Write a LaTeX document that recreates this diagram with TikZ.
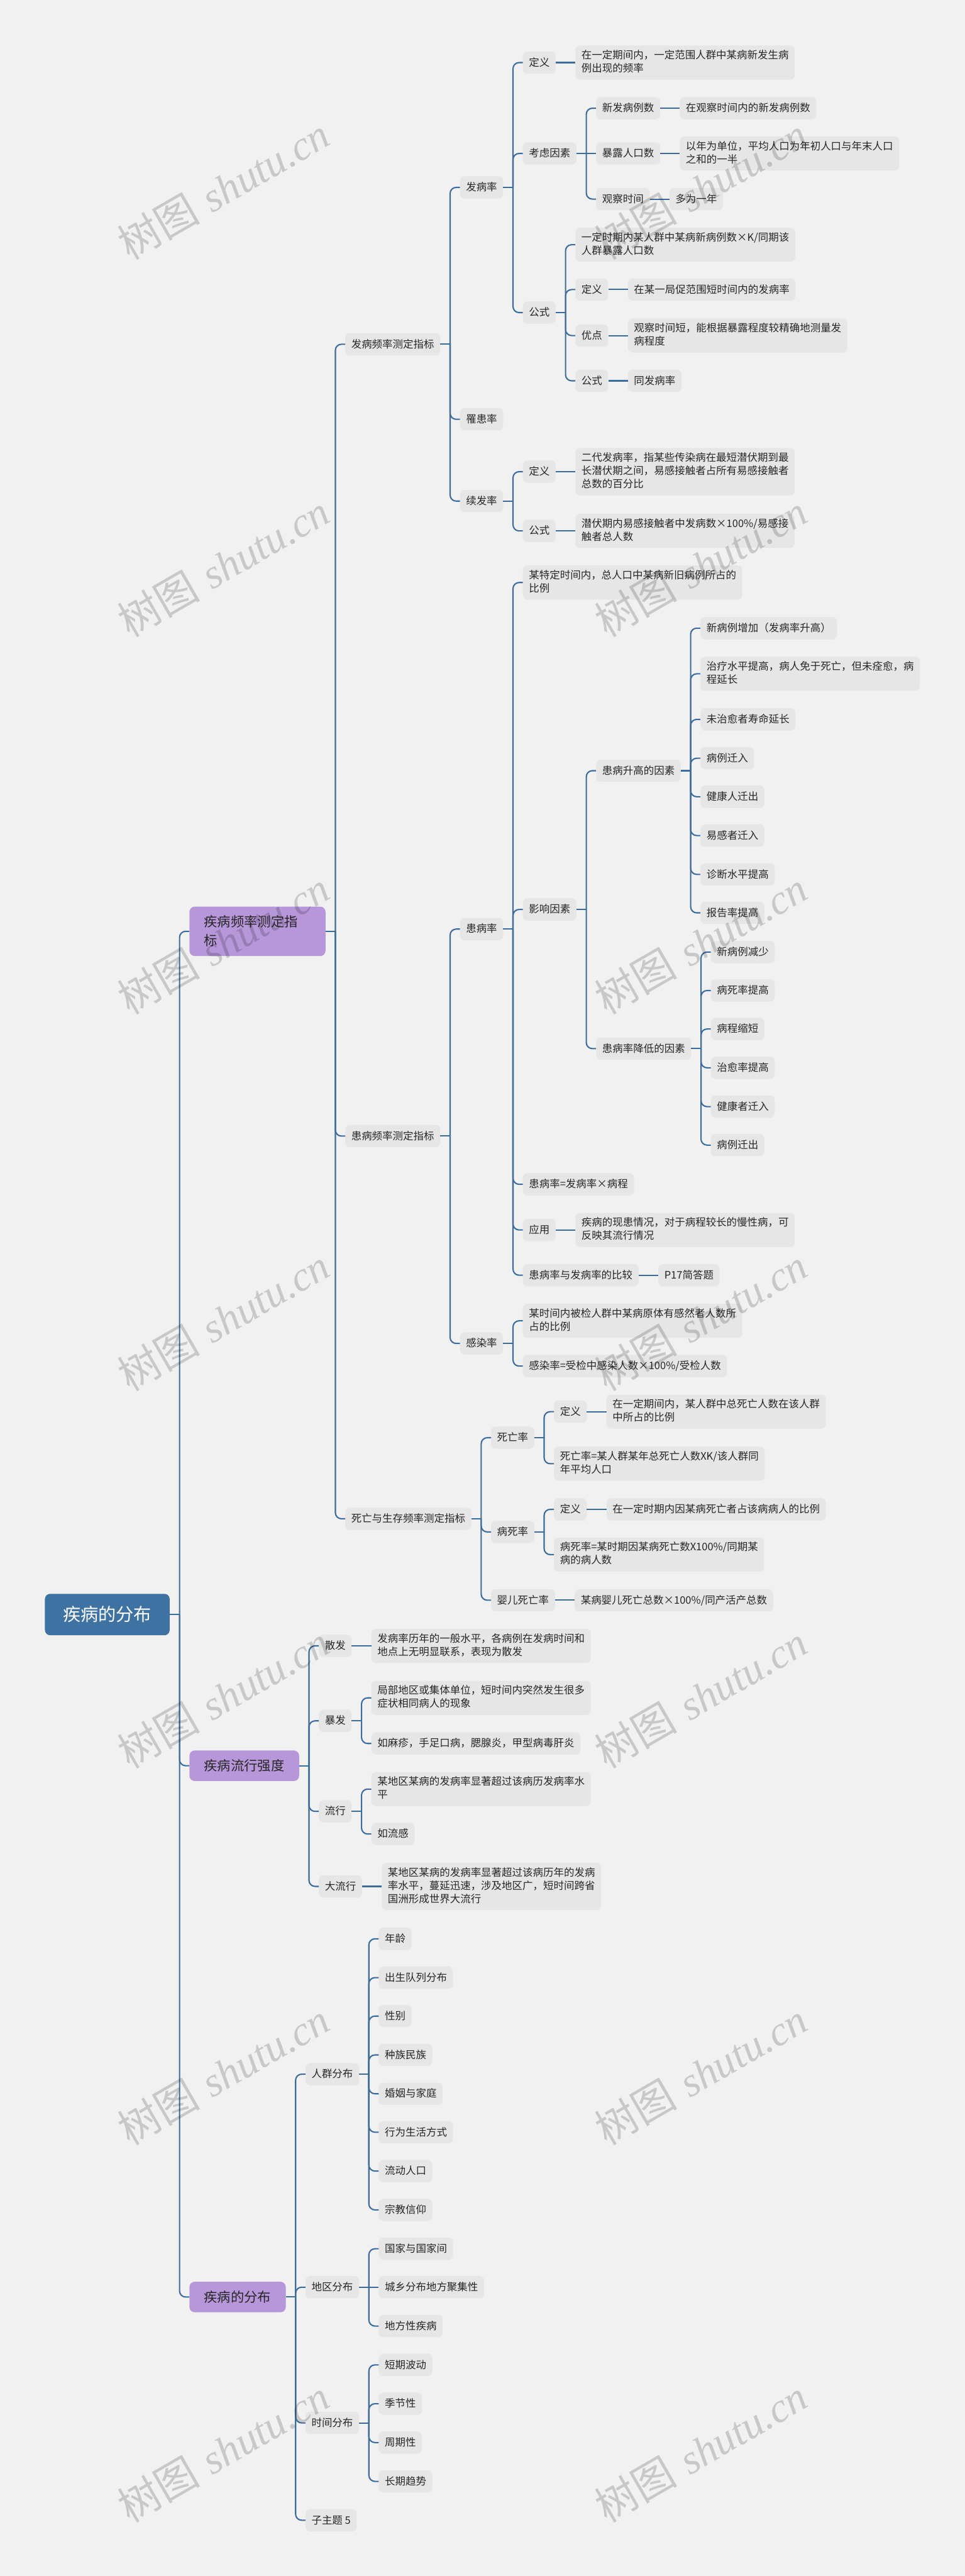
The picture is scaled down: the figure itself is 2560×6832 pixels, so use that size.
\documentclass[tikz,border=0pt]{standalone}
\usepackage{fontspec}
\newfontfamily\cjk{Noto Sans CJK SC}
\newfontfamily\wmserif{Liberation Serif}
\definecolor{bgc}{HTML}{F1F1F1}
\definecolor{boxc}{HTML}{E6E6E6}
\definecolor{linec}{HTML}{3C6C9C}
\definecolor{rootc}{HTML}{3E72A3}
\definecolor{purc}{HTML}{B797D9}
\definecolor{txtc}{HTML}{262626}
\newcommand\mystrut{\rule[-8pt]{0pt}{35pt}}
\newcommand\nl{\\\mystrut}
\newcommand\lstrut{\rule[-12pt]{0pt}{50pt}}
\newcommand\nll{\\\lstrut}
\newcommand\rstrut{\rule[-14pt]{0pt}{62pt}}
\newcommand\kid[5][]{%
  \node[bx,xshift=52pt,#1] (#2) at (#3.east |- 0,#4) {#5};%
  \expandafter\xdef\csname ny@#2\endcsname{#4}%
  \draw[conn] (#3.east) -- ++(26pt,0);%
  \ifdim #4pt=\csname ny@#3\endcsname pt
    \draw[conn] ([xshift=26pt]#3.east) -- (#2.west);%
  \else
    \draw[conn] ([xshift=26pt]#3.east) |- (#2.west);%
  \fi}
\begin{document}
\begin{tikzpicture}[x=1pt,y=-1pt,
  bx/.style={anchor=west, fill=boxc, rounded corners=12pt, inner xsep=16pt, inner ysep=12pt, align=left, text=txtc, font=\cjk\fontsize{27.5}{35}\selectfont, execute at begin node=\mystrut},
  lv1/.style={anchor=west, fill=purc, rounded corners=14pt, inner xsep=39pt, inner ysep=15.5pt, align=left, text=txtc, font=\cjk\fontsize{35.5}{50}\selectfont, execute at begin node=\lstrut},
  rt/.style={anchor=west, fill=rootc, rounded corners=14pt, inner xsep=48pt, inner ysep=24pt, text=white, font=\cjk\fontsize{47}{62}\selectfont, execute at begin node=\rstrut},
  conn/.style={draw=linec, line width=3.5pt, rounded corners=16pt},
  wm/.style={rotate=30, anchor=south west, text=black, text opacity=0.17, inner sep=0pt, font=\fontsize{110}{120}\selectfont}
]
\fill[bgc] (0,0) rectangle (2560,6832);
\node[rt] (R) at (119,4282) {疾病的分布};
\expandafter\xdef\csname ny@R\endcsname{4282}
% level 1
\kid[lv1,text width=283pt]{A1}{R}{2470}{疾病频率测定指\nll 标}
\kid[lv1]{A2}{R}{4683}{疾病流行强度}
\kid[lv1]{A3}{R}{6092}{疾病的分布}
% A1
\kid{B1}{A1}{913}{发病频率测定指标}
\kid{B2}{A1}{3013}{患病频率测定指标}
\kid{B3}{A1}{4028}{死亡与生存频率测定指标}
% B1
\kid{C1}{B1}{497}{发病率}
\kid{C2}{B1}{1112}{罹患率}
\kid{C3}{B1}{1329}{续发率}
\kid{D1}{C1}{166}{定义}
\kid{E1}{D1}{166}{在一定期间内，一定范围人群中某病新发生病\nl 例出现的频率}
\kid{D2}{C1}{407}{考虑因素}
\kid{E2}{D2}{287}{新发病例数}
\kid{F2}{E2}{287}{在观察时间内的新发病例数}
\kid{E3}{D2}{407}{暴露人口数}
\kid{F3}{E3}{407}{以年为单位，平均人口为年初人口与年末人口\nl 之和的一半}
\kid{E4}{D2}{528}{观察时间}
\kid{F4}{E4}{528}{多为一年}
\kid{D3}{C1}{829}{公式}
\kid{E5}{D3}{649}{一定时期内某人群中某病新病例数×K/同期该\nl 人群暴露人口数}
\kid{E6}{D3}{768}{定义}
\kid{F6}{E6}{768}{在某一局促范围短时间内的发病率}
\kid{E7}{D3}{890}{优点}
\kid{F7}{E7}{890}{观察时间短，能根据暴露程度较精确地测量发\nl 病程度}
\kid{E8}{D3}{1010}{公式}
\kid{F8}{E8}{1010}{同发病率}
\kid{D4}{C3}{1251}{定义}
\kid{E9}{D4}{1251}{二代发病率，指某些传染病在最短潜伏期到最\nl 长潜伏期之间，易感接触者占所有易感接触者\nl 总数的百分比}
\kid{D5}{C3}{1408}{公式}
\kid{E10}{D5}{1408}{潜伏期内易感接触者中发病数×100\%/易感接\nl 触者总人数}
% B2
\kid{C4}{B2}{2464}{患病率}
\kid{C5}{B2}{3563}{感染率}
\kid{D6}{C4}{1545}{某特定时间内，总人口中某病新旧病例所占的\nl 比例}
\kid{D7}{C4}{2412}{影响因素}
\kid{E11}{D7}{2044}{患病升高的因素}
\kid{G1}{E11}{1666}{新病例增加（发病率升高）}
\kid{G2}{E11}{1787}{治疗水平提高，病人免于死亡，但未痊愈，病\nl 程延长}
\kid{G3}{E11}{1908}{未治愈者寿命延长}
\kid{G4}{E11}{2011}{病例迁入}
\kid{G5}{E11}{2113}{健康人迁出}
\kid{G6}{E11}{2216}{易感者迁入}
\kid{G7}{E11}{2319}{诊断水平提高}
\kid{G8}{E11}{2421}{报告率提高}
\kid{E12}{D7}{2781}{患病率降低的因素}
\kid{H1}{E12}{2525}{新病例减少}
\kid{H2}{E12}{2627}{病死率提高}
\kid{H3}{E12}{2729}{病程缩短}
\kid{H4}{E12}{2832}{治愈率提高}
\kid{H5}{E12}{2935}{健康者迁入}
\kid{H6}{E12}{3037}{病例迁出}
\kid{D8}{C4}{3141}{患病率=发病率×病程}
\kid{D9}{C4}{3262}{应用}
\kid{E13}{D9}{3262}{疾病的现患情况，对于病程较长的慢性病，可\nl 反映其流行情况}
\kid{D10}{C4}{3382}{患病率与发病率的比较}
\kid{E14}{D10}{3382}{P17简答题}
\kid{D11}{C5}{3503}{某时间内被检人群中某病原体有感然者人数所\nl 占的比例}
\kid{D12}{C5}{3623}{感染率=受检中感染人数×100\%/受检人数}
% B3
\kid{C6}{B3}{3813}{死亡率}
\kid{D13}{C6}{3744}{定义}
\kid{E15}{D13}{3744}{在一定期间内，某人群中总死亡人数在该人群\nl 中所占的比例}
\kid{D14}{C6}{3882}{死亡率=某人群某年总死亡人数XK/该人群同\nl 年平均人口}
\kid{C7}{B3}{4063}{病死率}
\kid{D15}{C7}{4003}{定义}
\kid{E16}{D15}{4003}{在一定时期内因某病死亡者占该病病人的比例}
\kid{D16}{C7}{4123}{病死率=某时期因某病死亡数X100\%/同期某\nl 病的病人数}
\kid{C8}{B3}{4244}{婴儿死亡率}
\kid{D17}{C8}{4244}{某病婴儿死亡总数×100\%/同产活产总数}
% A2
\kid{B4}{A2}{4365}{散发}
\kid{C9}{B4}{4365}{发病率历年的一般水平，各病例在发病时间和\nl 地点上无明显联系，表现为散发}
\kid{B5}{A2}{4564}{暴发}
\kid{C10}{B5}{4503}{局部地区或集体单位，短时间内突然发生很多\nl 症状相同病人的现象}
\kid{C11}{B5}{4624}{如麻疹，手足口病，腮腺炎，甲型病毒肝炎}
\kid{B6}{A2}{4804}{流行}
\kid{C12}{B6}{4745}{某地区某病的发病率显著超过该病历发病率水\nl 平}
\kid{C13}{B6}{4864}{如流感}
\kid{B7}{A2}{5003}{大流行}
\kid{C14}{B7}{5003}{某地区某病的发病率显著超过该病历年的发病\nl 率水平，蔓延迅速，涉及地区广，短时间跨省\nl 国洲形成世界大流行}
% A3
\kid{B8}{A3}{5501}{人群分布}
\kid{I1}{B8}{5142}{年龄}
\kid{I2}{B8}{5245}{出生队列分布}
\kid{I3}{B8}{5347}{性别}
\kid{I4}{B8}{5450}{种族民族}
\kid{I5}{B8}{5553}{婚姻与家庭}
\kid{I6}{B8}{5655}{行为生活方式}
\kid{I7}{B8}{5758}{流动人口}
\kid{I8}{B8}{5861}{宗教信仰}
\kid{B9}{A3}{6066}{地区分布}
\kid{J1}{B9}{5964}{国家与国家间}
\kid{J2}{B9}{6066}{城乡分布地方聚集性}
\kid{J3}{B9}{6169}{地方性疾病}
\kid{B10}{A3}{6426}{时间分布}
\kid{K1}{B10}{6272}{短期波动}
\kid{K2}{B10}{6375}{季节性}
\kid{K3}{B10}{6478}{周期性}
\kid{K4}{B10}{6581}{长期趋势}
\kid{B11}{A3}{6684}{子主题 5}
% watermarks
\foreach \k in {0,...,6}{
  \node[wm] (wmL\k) at (348,700+1000*\k) {{\cjk 树图} {\wmserif\itshape shutu.cn}};
  \node[wm] (wmR\k) at (1615,700+1000*\k) {{\cjk 树图} {\wmserif\itshape shutu.cn}};
}
\end{tikzpicture}
\end{document}
